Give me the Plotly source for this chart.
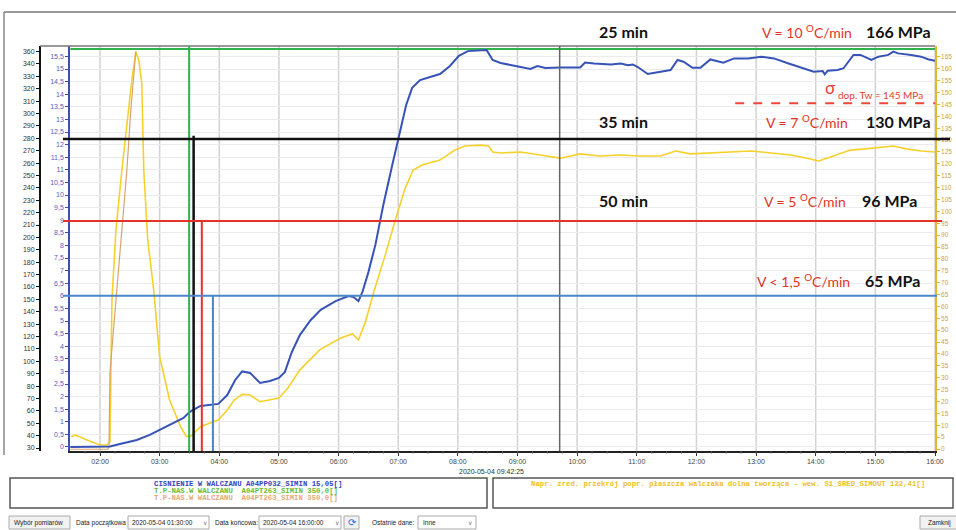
import plotly.graph_objects as go

DAY = "2020-05-04 "

# ---------------- data ----------------
# Pressure in drum (left blue axis)
blue_t = ["01:30","01:55","02:10","02:20","02:37","02:50","03:00","03:12","03:24","03:29",
          "03:32","03:41","03:51","03:59","04:08","04:16","04:23","04:31","04:41","04:51",
          "05:00","05:06","05:13","05:21","05:32","05:42","05:57","06:10","06:15","06:20",
          "06:24","06:30","06:37","06:45","06:54","07:02","07:08","07:14","07:22","07:32",
          "07:42","07:52","08:01","08:10","08:21","08:29","08:35","08:43","08:53","09:03",
          "09:13","09:20","09:28","09:43","10:03","10:08","10:17","10:34","10:44","10:51",
          "10:56","11:01","11:11","11:21","11:34","11:41","11:47","11:56","12:04","12:14",
          "12:27","12:38","12:52","13:05","13:18","13:32","13:45","13:58","14:07","14:09",
          "14:12","14:22","14:28","14:38","14:45","14:56","15:03","15:13","15:18","15:23",
          "15:36","15:46","15:53","16:00"]
blue_v = [0,0,0.02,0.12,0.28,0.48,0.67,0.91,1.15,1.35,
          1.43,1.63,1.67,1.71,2.06,2.66,3.00,2.94,2.54,2.62,
          2.74,2.98,3.77,4.44,5.04,5.44,5.79,5.99,5.95,5.79,
          6.15,6.94,8.02,9.60,11.19,12.58,13.57,14.25,14.56,14.68,
          14.80,15.12,15.52,15.71,15.75,15.75,15.36,15.24,15.16,15.08,
          15.00,15.12,15.04,15.06,15.06,15.26,15.22,15.18,15.22,15.15,
          15.18,15.08,14.80,14.87,14.96,15.36,15.29,15.05,15.05,15.38,
          15.25,15.42,15.42,15.49,15.42,15.23,15.07,14.89,14.92,14.79,
          14.93,14.96,15.03,15.56,15.56,15.36,15.49,15.56,15.69,15.62,
          15.56,15.49,15.39,15.33]

# Reduced stress (right yellow axis, MPa)
yel_t = ["01:31","01:35","01:47","02:00","02:07","02:10","02:12","02:16","02:22","02:28",
         "02:32","02:36","02:39","02:42","02:44","02:48","02:54","03:00","03:10","03:21",
         "03:27","03:32","03:41","03:54","03:59","04:08","04:15","04:23","04:31","04:41",
         "04:51","05:00","05:09","05:21","05:31","05:41","06:02","06:14","06:20","06:27",
         "06:36","06:47","06:57","07:07","07:15","07:24","07:42","07:57","08:07","08:23",
         "08:31","08:35","08:43","09:03","09:23","09:43","10:03","10:23","10:43","11:04",
         "11:24","11:39","11:54","12:14","12:34","12:55","13:15","13:35","13:50","14:03",
         "14:15","14:35","14:50","15:05","15:18","15:31","15:46","16:00"]
yel_v = [5.2,5.9,3.8,1.7,1.7,3.1,62.7,92.2,117.4,140.6,
         155.3,167.1,163.7,154.0,117.4,88.0,67.0,38.8,20.6,9.4,
         5.2,5.6,9.4,11.5,12.2,16.4,20.6,23.0,22.7,19.9,
         20.6,21.5,25.7,33.2,37.5,41.7,46.7,48.4,45.9,53.5,
         66.9,81.7,96.4,109.8,117.4,119.5,121.6,125.8,127.5,127.9,
         127.5,125.0,124.6,125.0,123.7,122.4,124.2,123.3,123.7,123.3,
         123.3,125.4,124.2,124.6,125.0,125.4,124.6,123.7,122.5,121.2,
         122.9,125.8,126.3,127.1,127.5,126.3,125.4,125.0]

# Temperature series (black axis)
tan_t = ["01:30","02:08","02:09","02:10","02:16","02:27","02:31","02:36"]
tan_v = [29,29,31,91,149,254,303,350]
grn_t = ["01:30","16:00"]
grn_v = [352,352]

# Reference levels (MPa, right axis) and the times where they are reached
thr_vals   = [130.5, 96, 64.5]
thr_times  = ["03:34:10", "03:42:25", "03:53:35"]
thr_colors = ["#111111", "#e5332a", "#4a86c8"]
green_time = "03:29:40"
cursor_time = "09:42:25"
allow_val = 145.5
allow_t = ["12:39", "16:00"]
hour_ticks = ["%02d:00" % h for h in range(2, 17)]
quarter_ticks = ["%02d:%02d" % (h, m) for h in range(1, 16) for m in (0, 15, 30, 45)
                 if (h, m) >= (1, 45)] + ["16:00"]

black_ticks = list(range(30, 341, 10)) + [350]
black_text = [str(v) for v in range(30, 341, 10)] + ["360"]
blue_ticks = [i * 0.5 for i in range(32)]
blue_text = [f"{v:g}".replace(".", ",") for v in blue_ticks]

durations = ["25 min", "35 min", "50 min"]
rates = ["V = 10 <sup>O</sup>C/min", "V = 7 <sup>O</sup>C/min",
         "V = 5 <sup>O</sup>C/min", "V < 1,5 <sup>O</sup>C/min"]
stresses = ["166 MPa", "130 MPa", "96 MPa", "65 MPa"]

legend_left = ["CISNIENIE W WALCZANU A04PP032_SIMIN 15,05[]",
               "T.P-NAS.W WALCZANU  A04PT263_SIMIN 350,0[]",
               "T.P-NAS.W WALCZANU  A04PT263_SIMIN 350,0[]"]
legend_left_colors = ["#3344bb", "#66bb33", "#e6a878"]
legend_right = "Napr. zred. przekrój popr. płaszcza walczaka dolna tworząca - wew. S1_SRED_SIMOUT 122,41[]"

W, H = 956, 530
def px(x): return x / W
def py(y): return 1 - y / H
def ts(lst): return [DAY + t for t in lst]

fig = go.Figure()
fig.add_trace(go.Scatter(x=ts(yel_t), y=yel_v, yaxis="y", mode="lines",
                         line=dict(color="#f6d12c", width=1.6)))
fig.add_trace(go.Scatter(x=ts(grn_t), y=grn_v, yaxis="y2", mode="lines",
                         line=dict(color="#2fb34c", width=2)))
fig.add_trace(go.Scatter(x=ts(tan_t), y=tan_v, yaxis="y2", mode="lines",
                         line=dict(color="#d9a36e", width=1.2)))
fig.add_trace(go.Scatter(x=ts(blue_t), y=blue_v, yaxis="y3", mode="lines",
                         line=dict(color="#3853b6", width=2)))

shapes = []
# hourly vertical grid lines (drawn below the traces)
for t in hour_ticks:
    shapes.append(dict(type="line", xref="x", yref="paper", x0=DAY + t, x1=DAY + t,
                       y0=py(451), y1=py(46), layer="below", line=dict(color="#d2d2d2", width=1.5)))
# small quarter-hour tick marks under the axis
for t in quarter_ticks:
    shapes.append(dict(type="line", xref="x", yref="paper", x0=DAY + t, x1=DAY + t,
                       y0=py(451), y1=py(453.5), line=dict(color="#555", width=1)))
# window frame
shapes.append(dict(type="line", xref="paper", yref="paper", x0=px(4), x1=px(956),
                   y0=py(12), y1=py(12), line=dict(color="#777", width=1.5)))
shapes.append(dict(type="line", xref="paper", yref="paper", x0=px(4), x1=px(4),
                   y0=py(12), y1=py(455), line=dict(color="#888", width=1.5)))
# plot top border
shapes.append(dict(type="line", xref="paper", yref="paper", x0=px(40), x1=px(935),
                   y0=py(46), y1=py(46), line=dict(color="#777", width=1.5)))
# cursor
shapes.append(dict(type="line", xref="x", yref="paper", x0=DAY + cursor_time, x1=DAY + cursor_time,
                   y0=py(451), y1=py(46), line=dict(color="#666", width=1.5)))
# green vertical
shapes.append(dict(type="line", xref="x", yref="paper", x0=DAY + green_time, x1=DAY + green_time,
                   y0=py(451), y1=py(46), line=dict(color="#2fb34c", width=2)))
# thresholds
h_ends = [950, 942, 937]
for v, t, c, e in zip(thr_vals, thr_times, thr_colors, h_ends):
    w = 2.5 if c == "#111111" else 2
    shapes.append(dict(type="line", xref="paper", yref="y", x0=px(63), x1=px(e),
                       y0=v, y1=v, line=dict(color=c, width=w)))
    top = v + (1.3 if c == "#111111" else 0)
    shapes.append(dict(type="line", xref="x", yref="y", x0=DAY + t, x1=DAY + t,
                       y0=-0.84, y1=top, line=dict(color=c, width=w)))
# allowable stress dashed
shapes.append(dict(type="line", xref="x", yref="y", x0=DAY + allow_t[0], x1=DAY + allow_t[1],
                   y0=allow_val, y1=allow_val, line=dict(color="#f0453a", width=2, dash="dash")))
# legend boxes
for x0, x1 in [(10, 487), (493, 953)]:
    shapes.append(dict(type="rect", xref="paper", yref="paper", x0=px(x0), x1=px(x1),
                       y0=py(508), y1=py(478), line=dict(color="#555", width=1.5)))
# toolbar controls
for x0, x1, fill in [(9, 70, "#f2f2f2"), (128, 209, "white"), (259, 341, "white"),
                     (344, 359, "#f2f2f2"), (418, 476, "white"), (920, 960, "#f2f2f2")]:
    shapes.append(dict(type="rect", xref="paper", yref="paper", x0=px(x0), x1=px(x1),
                       y0=py(529), y1=py(516), fillcolor=fill, line=dict(color="#aaa", width=1)))

ann = []
BIG = dict(family="Lato", size=16, color="#111")
RED = dict(family="Lato", size=14, color="#de3329")
dur_y = [32, 122, 200]
for d, yy in zip(durations, dur_y):
    ann.append(dict(text=f"<b>{d}</b>", x=px(597), y=py(yy), font=BIG))
rate_x = [760, 764, 762, 755]
rate_y = [32, 122, 200, 280]
str_x = [864, 864, 860, 863]
for r, s, rx, sx, yy in zip(rates, stresses, rate_x, str_x, rate_y):
    ann.append(dict(text=r, x=px(rx), y=py(yy), font=RED))
    ann.append(dict(text=f"<b>{s}</b>", x=px(sx), y=py(yy), font=BIG))
ann.append(dict(text="σ", x=px(823), y=py(88), font=dict(family="Lato", size=17, color="#e8402f")))
ann.append(dict(text="dop. Tw = 145 MPa", x=px(836), y=py(94.5),
                font=dict(family="Lato", size=10, color="#e8402f")))
ann.append(dict(text="2020-05-04 09:42:25", x=px(457), y=py(471),
                font=dict(family="Liberation Sans", size=7, color="#333")))
for i, (t, c) in enumerate(zip(legend_left, legend_left_colors)):
    ann.append(dict(text=f"<b>{t}</b>", x=px(152), y=py(484 + 7 * i),
                    font=dict(family="Liberation Mono", size=7.3, color=c)))
ann.append(dict(text=f"<b>{legend_right}</b>", x=px(529), y=py(484),
                font=dict(family="Liberation Mono", size=7.3, color="#f0c020")))
TB = dict(family="Liberation Sans", size=6.5, color="#222")
for t, x in [("Wybór pomiarów", 12), ("Data początkowa", 74), ("2020-05-04 01:30:00", 130),
             ("Data końcowa:", 213), ("2020-05-04 16:00:00", 261), ("Ostatnie dane:", 370),
             ("Inne", 421), ("Zamknij", 926)]:
    ann.append(dict(text=t, x=px(x), y=py(522.5), font=TB))
for x in [201, 333, 466]:
    ann.append(dict(text="∨", x=px(x), y=py(522.5), font=dict(family="DejaVu Sans", size=6, color="#777")))
ann.append(dict(text="⟳", x=px(345.5), y=py(522.5), font=dict(family="DejaVu Sans", size=10, color="#2a6fd0")))
for a in ann:
    a.update(xref="paper", yref="paper", xanchor="left", yanchor="middle", showarrow=False)

fig.update_layout(
    template="none", width=W, height=H, autosize=False,
    margin=dict(l=0, r=0, t=0, b=0, pad=0),
    paper_bgcolor="white", plot_bgcolor="white", showlegend=False,
    shapes=shapes, annotations=ann,
    xaxis=dict(domain=[px(70.2), px(935)], type="date", anchor="y",
               range=[DAY + "01:30", DAY + "16:00"], tickmode="array",
               tickvals=ts(hour_ticks), ticktext=hour_ticks,
               showgrid=False,
               showline=True, linecolor="#222", linewidth=1.5, ticks="outside", ticklen=3,
               tickcolor="#333", tickfont=dict(family="Liberation Sans", size=7, color="#444"),
               zeroline=False, automargin=False),
    yaxis=dict(domain=[py(451), py(46)], anchor="x", side="right",
               range=[-0.84, 169.6], tick0=0, dtick=5, showgrid=False,
               showline=True, linecolor="#e8b52e", linewidth=1.5, ticks="outside", ticklen=3,
               tickcolor="#e8b52e", tickfont=dict(family="Liberation Sans", size=6.5, color="#c9a24e"),
               zeroline=False, automargin=False),
    yaxis2=dict(overlaying="y", anchor="free", position=px(40), side="left",
                range=[27.58, 354.5], tickmode="array", tickvals=black_ticks, ticktext=black_text,
                showgrid=False, showline=True, linecolor="#111", linewidth=2, ticks="outside",
                ticklen=3, tickcolor="#111", tickfont=dict(family="Liberation Sans", size=7, color="#333"),
                zeroline=False, automargin=False),
    yaxis3=dict(overlaying="y", anchor="x", side="left",
                range=[-0.159, 15.913], tickmode="array", tickvals=blue_ticks, ticktext=blue_text,
                showgrid=True, gridcolor="#ebebeb", gridwidth=1,
                showline=True, linecolor="#3d50b8", linewidth=2, ticks="outside", ticklen=3,
                tickcolor="#3d50b8", tickfont=dict(family="Liberation Sans", size=7, color="#5462b6"),
                zeroline=False, automargin=False),
)

fig.write_html("out.html")
